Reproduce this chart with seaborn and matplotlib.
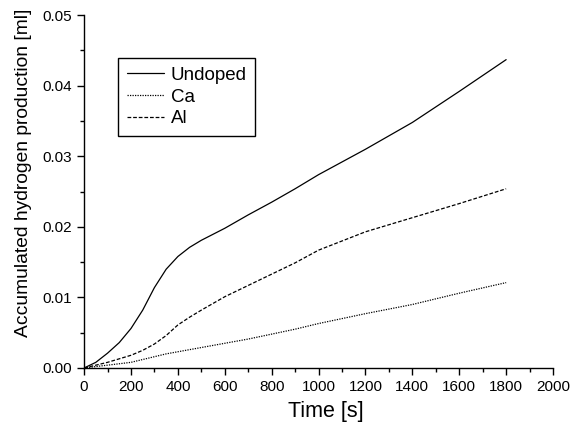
import numpy as np
import pandas as pd
import matplotlib
matplotlib.use('Agg')
import matplotlib.pyplot as plt
from matplotlib.ticker import MultipleLocator, FormatStrFormatter
import seaborn as sns

# values
time_s = [0, 50, 100, 150, 200, 250, 300, 350, 400, 450, 500, 600, 700, 800, 900,
          1000, 1200, 1400, 1600, 1800]
undoped = [0.0, 0.0008, 0.0021, 0.0036, 0.0056, 0.0082, 0.0114, 0.0140, 0.0158, 0.0171, 0.0181,
           0.0198, 0.0217, 0.0235, 0.0254, 0.0274, 0.0310, 0.0348, 0.0392, 0.0437]
ca = [0.0, 0.0002, 0.0004, 0.0006, 0.0008, 0.0012, 0.0016, 0.0020, 0.0023, 0.0026, 0.0029,
      0.0035, 0.0041, 0.0048, 0.0055, 0.0063, 0.0077, 0.0090, 0.0106, 0.0121]
al = [0.0, 0.0004, 0.0008, 0.0013, 0.0018, 0.0025, 0.0034, 0.0046, 0.0061, 0.0072, 0.0082,
      0.0101, 0.0117, 0.0133, 0.0149, 0.0167, 0.0193, 0.0213, 0.0233, 0.0254]

labels = ['Undoped', 'Ca', 'Al']
styles = {'Undoped': '-', 'Ca': (0, (1, 1)), 'Al': (0, (3, 1.5))}

df = pd.DataFrame({'time': time_s * 3,
                   'vol': undoped + ca + al,
                   'sample': sum([[l] * len(time_s) for l in labels], [])})

sns.set_style('ticks')
plt.rcParams['font.family'] = ['Liberation Sans', 'DejaVu Sans']
plt.rcParams['text.color'] = 'black'
plt.rcParams['axes.labelcolor'] = 'black'

fig = plt.figure(figsize=(5.84, 4.22), dpi=100)
ax = fig.add_axes([0.144, 0.128, 0.803, 0.836])

for lab in labels:
    sub = df[df['sample'] == lab]
    sns.lineplot(data=sub, x='time', y='vol', ax=ax, color='black',
                 linestyle=styles[lab], linewidth=0.9, label=lab)

ax.set_xlim(0, 2000)
ax.set_ylim(0, 0.05)
ax.xaxis.set_major_locator(MultipleLocator(200))
ax.xaxis.set_minor_locator(MultipleLocator(100))
ax.yaxis.set_major_locator(MultipleLocator(0.01))
ax.yaxis.set_minor_locator(MultipleLocator(0.005))
ax.yaxis.set_major_formatter(FormatStrFormatter('%.2f'))
ax.tick_params(which='major', direction='out', length=5, width=1, labelsize=11,
               colors='black', labelcolor='black')
ax.tick_params(which='minor', direction='out', length=3, width=1, colors='black')
for s in ['left', 'bottom']:
    ax.spines[s].set_color('black')
    ax.spines[s].set_linewidth(1)
sns.despine(ax=ax)

ax.set_xlabel('Time [s]', fontsize=15.5)
ax.set_ylabel('Accumulated hydrogen production [ml]', fontsize=13.9)
ax.xaxis.set_label_coords(0.515, -0.093)
ax.yaxis.set_label_coords(-0.111, 0.554)

leg = ax.legend(loc='upper left', bbox_to_anchor=(0.0725, 0.878), fontsize=13.5,
                frameon=True, fancybox=False, edgecolor='black', framealpha=1,
                handlelength=2.0, handletextpad=0.37, borderpad=0.45, labelspacing=0.25,
                borderaxespad=0)
leg.get_frame().set_linewidth(1)

plt.savefig('out.png', dpi=100)
plt.close(fig)
